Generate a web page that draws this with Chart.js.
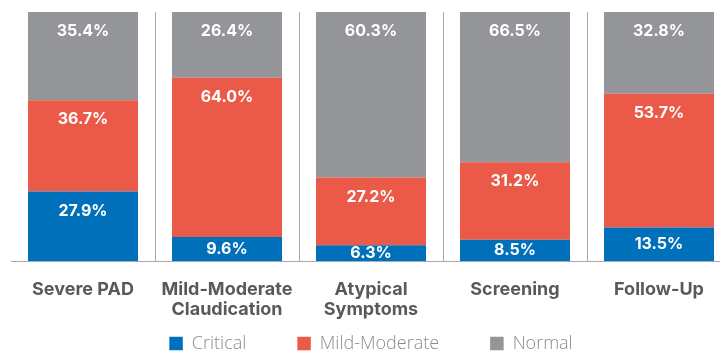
<!DOCTYPE html>
<html>
<head>
<meta charset="utf-8">
<script src="https://cdn.jsdelivr.net/npm/chart.js@4"></script>
<style>
  html, body { margin: 0; padding: 0; background: #fff; overflow: hidden; }
  #wrap { width: 731px; height: 354px; }
</style>
</head>
<body>
<div id="wrap"><canvas id="chart"></canvas></div>
<script>
const categories = [['Severe PAD'], ['Mild-Moderate', 'Claudication'], ['Atypical', 'Symptoms'], ['Screening'], ['Follow-Up']];
const critical = [27.9, 9.6, 6.3, 8.5, 13.5];
const mildModerate = [36.7, 64.0, 27.2, 31.2, 53.7];
// bar heights as drawn in the picture
const normal = [35.4, 26.4, 66.5, 60.3, 32.8];
// values printed on the grey segments (the source swaps two of them)
const normalLabels = [35.4, 26.4, 60.3, 66.5, 32.8];

const LEGEND_PAD = 51;

// labels near the top of each segment
const segmentLabels = {
    id: 'segmentLabels',
    afterDatasetsDraw(chart) {
        const c = chart.ctx;
        c.save();
        c.font = 'bold 16px Inter, "DejaVu Sans", sans-serif';
        c.fillStyle = '#fff';
        c.textAlign = 'center';
        c.textBaseline = 'middle';
        chart.data.datasets.forEach((ds, i) => {
            const texts = ds.printed || ds.data;
            chart.getDatasetMeta(i).data.forEach((bar, j) => {
                const top = Math.min(bar.y, bar.base);
                const h = Math.abs(bar.base - bar.y);
                c.fillText(texts[j].toFixed(1) + '%', bar.x, top + Math.min(19.5, h / 2));
            });
        });
        c.restore();
    }
};

// legend keeps its wide item spacing but takes less height
const legendHeight = {
    id: 'legendHeight',
    beforeLayout(chart) {
        const lg = chart.legend;
        if (lg && !lg._fitPatched) {
            const fit = lg.fit;
            lg.fit = function () { fit.call(this); this.height = 354 - 343.5 + LEGEND_PAD + 9; };
            lg._fitPatched = true;
        }
    }
};

new Chart(document.getElementById('chart'), {
    type: 'bar',
    data: {
        labels: categories,
        datasets: [
            { label: 'Critical', data: critical, backgroundColor: '#0070ba' },
            { label: 'Mild-Moderate', data: mildModerate, backgroundColor: '#eb5a48' },
            { label: 'Normal', data: normal, printed: normalLabels, backgroundColor: '#939598' }
        ]
    },
    options: {
        responsive: true,
        maintainAspectRatio: false,
        animation: false,
        layout: { padding: { left: 11, top: 12, right: 0, bottom: 0 } },
        datasets: { bar: { categoryPercentage: 1, barPercentage: 0.764 } },
        plugins: {
            tooltip: { enabled: false },
            legend: {
                position: 'bottom',
                labels: {
                    boxWidth: 13.5,
                    boxHeight: 13.5,
                    padding: LEGEND_PAD,
                    color: '#8c8c8c',
                    font: { family: '"Open Sans", Lato, sans-serif', size: 18, weight: 300 }
                }
            }
        },
        scales: {
            x: {
                stacked: true,
                afterFit(scale) {
                    // chart area must end at y = 261
                    scale.height = 354 - 261 - (354 - 343.5 + LEGEND_PAD + 9);
                    // let the label lines spill below the short axis box
                    scale._computeLabelArea = () => undefined;
                },
                grid: {
                    color: (ctx) => ctx.index === 0 ? 'rgba(0,0,0,0)' : '#a7a9ac',
                    lineWidth: 1,
                    drawTicks: false
                },
                border: { color: '#a7a9ac', width: 1 },
                ticks: {
                    padding: 19,
                    color: '#58595b',
                    font: { family: 'Inter, "DejaVu Sans", sans-serif', size: 18, weight: 'bold', lineHeight: 1.11 }
                }
            },
            y: {
                stacked: true,
                display: false,
                min: 0,
                max: 100
            }
        }
    },
    plugins: [segmentLabels, legendHeight]
});
</script>
</body>
</html>
